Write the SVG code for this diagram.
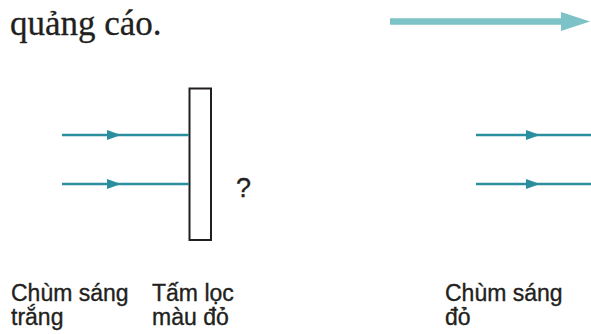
<svg xmlns="http://www.w3.org/2000/svg" width="591" height="334" viewBox="0 0 591 334">
<style>
.serif{font-family:"Liberation Serif","Times New Roman",serif;fill:#231f20;stroke:#231f20;stroke-width:0.3}
.sans{font-family:"Liberation Sans",Arial,sans-serif;fill:#231f20;font-size:23px;stroke:#231f20;stroke-width:0.35}
.q{font-size:27px}
.ray{stroke:#2b8e9e;stroke-width:2.5;fill:none}
.head{fill:#2b8e9e}
</style>
<rect width="591" height="334" fill="#ffffff"/>
<text class="serif" x="10" y="35" font-size="35">quảng cáo.</text>
<g id="big-arrow">
<line x1="390" y1="21.5" x2="564" y2="21.5" stroke="#7cc2c6" stroke-width="6.5"/>
<polygon points="561,12 590,21.5 561,31" fill="#7cc2c6"/>
</g>
<g id="filter">
<rect x="189.5" y="88.5" width="21.5" height="151.5" fill="#ffffff" stroke="#231f20" stroke-width="2"/>
</g>
<g id="connectors">
<line class="ray" x1="62" y1="135" x2="189" y2="135"/>
<polygon class="head" points="107,130 121,135 107,140"/>
<line class="ray" x1="62" y1="184" x2="189" y2="184"/>
<polygon class="head" points="107,179 121,184 107,189"/>
<line class="ray" x1="476" y1="135" x2="591" y2="135"/>
<polygon class="head" points="526,130 540,135 526,140"/>
<line class="ray" x1="476" y1="184" x2="591" y2="184"/>
<polygon class="head" points="526,179 540,184 526,189"/>
</g>
<text class="sans q" x="236" y="197">?</text>
<g id="label-white">
<text class="sans" x="11" y="301">Chùm sáng</text>
<text class="sans" x="11" y="325">trắng</text>
</g>
<g id="label-filter">
<text class="sans" x="152" y="301">Tấm lọc</text>
<text class="sans" x="152" y="325">màu đỏ</text>
</g>
<g id="label-red">
<text class="sans" x="445" y="301">Chùm sáng</text>
<text class="sans" x="445" y="325">đỏ</text>
</g>
</svg>
